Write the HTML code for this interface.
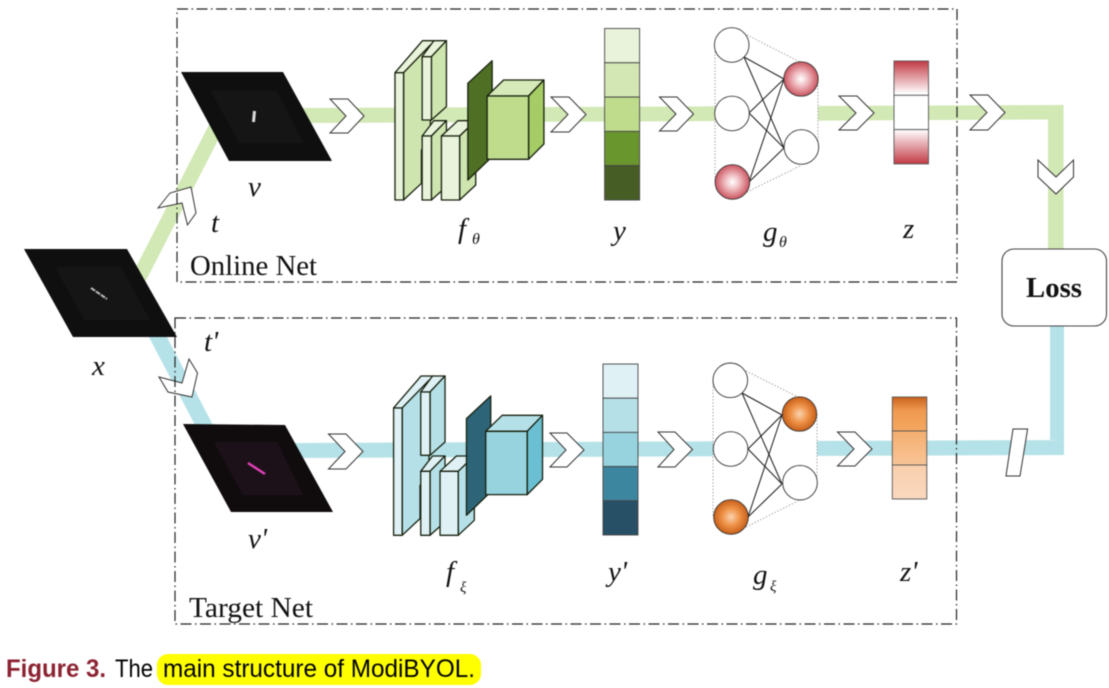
<!DOCTYPE html>
<html><head><meta charset="utf-8"><style>
html,body{margin:0;padding:0;background:#fff;width:1109px;height:688px;overflow:hidden}
svg{display:block;filter:blur(.4px)}
.s{font-family:"Liberation Serif",serif;fill:#111}
.i{font-family:"Liberation Serif",serif;font-style:italic;fill:#111;font-size:29px}
.sub{font-family:"Liberation Serif",serif;font-style:italic;fill:#111}
.c{font-family:"Liberation Sans",sans-serif;font-size:25px}
.chev{fill:#fff;stroke:#333;stroke-width:1}
.enc polygon{stroke:#16200e;stroke-width:1.3;vector-effect:non-scaling-stroke;stroke-linejoin:round}
.dash{fill:none;stroke:#222;stroke-width:1.2;stroke-dasharray:11 3.5 1.5 3.5}
.nl{stroke:#1a1a1a;stroke-width:1}
.dot{stroke:#777;stroke-width:.8;stroke-dasharray:1.2 2}
.nc{stroke:#333;stroke-width:.9}
</style></head><body>
<svg width="1109" height="688" viewBox="0 0 1109 688" xmlns="http://www.w3.org/2000/svg">
<defs>
<radialGradient id="pk"><stop offset="0" stop-color="#fff"/><stop offset=".4" stop-color="#f0c0c4"/><stop offset="1" stop-color="#cc5560"/></radialGradient>
<radialGradient id="or"><stop offset="0" stop-color="#fad3b0"/><stop offset=".5" stop-color="#ee9348"/><stop offset="1" stop-color="#c85f18"/></radialGradient>
<linearGradient id="r1" x1="0" y1="0" x2="0" y2="1"><stop offset="0" stop-color="#c23a45"/><stop offset=".95" stop-color="#fff"/></linearGradient>
<linearGradient id="r2" x1="0" y1="0" x2="0" y2="1"><stop offset="0" stop-color="#fff"/><stop offset="1" stop-color="#c23a45"/></linearGradient>
<linearGradient id="o1" x1="0" y1="0" x2="0" y2="1"><stop offset="0" stop-color="#c9621c"/><stop offset=".4" stop-color="#f09a50"/><stop offset="1" stop-color="#f5a862"/></linearGradient>
<linearGradient id="o2" x1="0" y1="0" x2="0" y2="1"><stop offset="0" stop-color="#f5ae70"/><stop offset="1" stop-color="#f8c597"/></linearGradient>
<linearGradient id="o3" x1="0" y1="0" x2="0" y2="1"><stop offset="0" stop-color="#f9cfad"/><stop offset="1" stop-color="#fbd8bf"/></linearGradient>
</defs>

<!-- connectors -->
<polyline points="125,305 225,110" fill="none" stroke="#d2e8b5" stroke-width="15"/>
<polygon points="300,108 1063.5,105 1063.5,250 1048,250 1048,119.500 300,123" fill="#d2e8b5"/>
<polygon points="140,320 158,320 213,425 195,425" fill="#b5e2e8"/>
<polygon points="295,443 1064,440 1064,326 1050,326 1050,440.500 1064,440 1064,455 295,458" fill="#b5e2e8"/>
<rect x="715" y="100" width="103" height="28" fill="#fff"/>
<rect x="713" y="435" width="104" height="28" fill="#fff"/>

<!-- images -->
<polygon points="24,249 127,249 177,337 73,337" fill="#0f0f0f"/>
<polygon points="55,267 121,267 150,320 84,320" fill="#151515"/>
<line x1="91" y1="288" x2="107" y2="299" stroke="#bbb" stroke-width="2" stroke-dasharray="5 1"/>
<polygon points="181,72 283,72 332,161 229,161" fill="#0f0f0f"/>
<polygon points="211,91 277,91 303.500,143 239,143" fill="#151515"/>
<line x1="254.500" y1="111" x2="253.500" y2="122" stroke="#ddd" stroke-width="3"/>
<polygon points="183,424 285,425 333,512 231,512" fill="#100c0e"/>
<polygon points="214,442 277,442 303,495 243,495" fill="#1d1119"/>
<line x1="248" y1="463" x2="265" y2="474" stroke="#e040b8" stroke-width="2.500"/>

<!-- online encoder -->
<g class="enc" transform="scale(0.35714,0.33333)">
<polygon fill="#e9f3db" points="1106,218 1183,122 1218,122 1130,218"/>
<polygon fill="#cfe5b0" points="1130,218 1205,135 1205,420 1180,450 1180,550 1130,600"/>
<polygon fill="#e9f3db" points="1106,218 1130,218 1130,600 1106,600"/>
<polygon fill="#e9f3db" points="1182,170 1215,122 1250,122 1208,170"/>
<polygon fill="#cfe5b0" points="1208,170 1250,122 1250,320 1208,360"/>
<polygon fill="#e9f3db" points="1182,170 1208,170 1208,360 1182,360"/>
<polygon fill="#e9f3db" points="1182,408 1215,362 1250,362 1208,408"/>
<polygon fill="#cfe5b0" points="1208,408 1250,362 1250,560 1208,600"/>
<polygon fill="#e9f3db" points="1182,408 1208,408 1208,600 1182,600"/>
<polygon fill="#e9f3db" points="1236,408 1282,362 1332,362 1287,408"/>
<polygon fill="#cfe5b0" points="1287,408 1332,362 1332,555 1287,600"/>
<polygon fill="#e9f3db" points="1236,408 1287,408 1287,600 1236,600"/>
<polygon fill="#4e6f24" points="1310,250 1378,182 1378,470 1310,540"/>
<polygon fill="#d6e9b8" points="1364,288 1410,240 1523,240 1480,288"/>
<polygon fill="#a6cc66" points="1480,288 1523,240 1523,432 1480,478"/>
<polygon fill="#bfdc8d" points="1364,288 1480,288 1480,478 1364,478"/>
</g>
<!-- target encoder -->
<g class="enc" transform="translate(-1.4,335.3) scale(0.35714,0.33333)">
<polygon fill="#dff1f5" points="1106,218 1183,122 1218,122 1130,218"/>
<polygon fill="#b6e0e8" points="1130,218 1205,135 1205,420 1180,450 1180,550 1130,600"/>
<polygon fill="#dff1f5" points="1106,218 1130,218 1130,600 1106,600"/>
<polygon fill="#dff1f5" points="1182,170 1215,122 1250,122 1208,170"/>
<polygon fill="#b6e0e8" points="1208,170 1250,122 1250,320 1208,360"/>
<polygon fill="#dff1f5" points="1182,170 1208,170 1208,360 1182,360"/>
<polygon fill="#dff1f5" points="1182,408 1215,362 1250,362 1208,408"/>
<polygon fill="#b6e0e8" points="1208,408 1250,362 1250,560 1208,600"/>
<polygon fill="#dff1f5" points="1182,408 1208,408 1208,600 1182,600"/>
<polygon fill="#dff1f5" points="1236,408 1282,362 1332,362 1287,408"/>
<polygon fill="#b6e0e8" points="1287,408 1332,362 1332,555 1287,600"/>
<polygon fill="#dff1f5" points="1236,408 1287,408 1287,600 1236,600"/>
<polygon fill="#2d6478" points="1310,250 1378,182 1378,470 1310,540"/>
<polygon fill="#b6e0e8" points="1364,288 1410,240 1523,240 1480,288"/>
<polygon fill="#6bbfd2" points="1480,288 1523,240 1523,432 1480,478"/>
<polygon fill="#96d3de" points="1364,288 1480,288 1480,478 1364,478"/>
</g>

<!-- y columns -->
<g stroke="#444" stroke-width=".9">
<rect x="604.600" y="28.500" width="35" height="34.300" fill="#e9f3db"/>
<rect x="604.600" y="62.800" width="35" height="34.300" fill="#d3e7b5"/>
<rect x="604.600" y="97.100" width="35" height="34.300" fill="#bfdc8d"/>
<rect x="604.600" y="131.400" width="35" height="34.300" fill="#6a962e"/>
<rect x="604.600" y="165.700" width="35" height="34.300" fill="#465e25"/>
<rect x="603" y="364" width="35" height="34.200" fill="#dff1f5"/>
<rect x="603" y="398.200" width="35" height="34.200" fill="#b6e0e8"/>
<rect x="603" y="432.400" width="35" height="34.200" fill="#96d3de"/>
<rect x="603" y="466.600" width="35" height="34.200" fill="#3d86a0"/>
<rect x="603" y="500.800" width="35" height="34.200" fill="#275066"/>
</g>

<!-- networks -->
<g class="dot">
<line x1="715" y1="45" x2="715" y2="182"/><line x1="747" y1="35" x2="800" y2="62"/><line x1="747" y1="192" x2="800" y2="166"/><line x1="818" y1="79" x2="818" y2="147"/>
<line x1="713" y1="380" x2="713" y2="517"/><line x1="746" y1="371" x2="798" y2="397"/><line x1="746" y1="527" x2="798" y2="501"/><line x1="817" y1="414" x2="817" y2="482"/>
</g>
<g class="nl">
<line x1="744" y1="57" x2="784" y2="79"/><line x1="744" y1="57" x2="784" y2="148"/><line x1="749" y1="113" x2="784" y2="79"/><line x1="749" y1="113" x2="784" y2="148"/><line x1="749" y1="182" x2="784" y2="79"/><line x1="749" y1="182" x2="784" y2="148"/>
<line x1="742" y1="393" x2="782" y2="415"/><line x1="742" y1="393" x2="782" y2="484"/><line x1="748" y1="449" x2="782" y2="415"/><line x1="748" y1="449" x2="782" y2="484"/><line x1="748" y1="517" x2="782" y2="415"/><line x1="748" y1="517" x2="782" y2="484"/>
</g>
<g class="nc">
<circle cx="731.700" cy="45" r="17.300" fill="#fff"/><circle cx="732" cy="113.500" r="17.300" fill="#fff"/><circle cx="732.400" cy="182" r="17.300" fill="url(#pk)"/><circle cx="801" cy="79" r="17.200" fill="url(#pk)"/><circle cx="801.400" cy="147" r="17.300" fill="#fff"/>
<circle cx="730.300" cy="380.300" r="17.300" fill="#fff"/><circle cx="730.600" cy="449" r="17.300" fill="#fff"/><circle cx="731" cy="517" r="17.300" fill="url(#or)"/><circle cx="799.500" cy="414" r="17.200" fill="url(#or)"/><circle cx="800" cy="482.700" r="17.300" fill="#fff"/>
</g>

<!-- z -->
<g stroke="#555" stroke-width=".9">
<rect x="894" y="61" width="34.500" height="34.300" fill="url(#r1)"/>
<rect x="894" y="95.300" width="34.500" height="34.300" fill="#fff"/>
<rect x="894" y="129.600" width="34.500" height="34.300" fill="url(#r2)"/>
<rect x="892.300" y="397" width="34.500" height="34" fill="url(#o1)"/>
<rect x="892.300" y="431" width="34.500" height="34" fill="url(#o2)"/>
<rect x="892.300" y="465" width="34.500" height="34" fill="url(#o3)"/>
</g>

<!-- chevrons -->
<g class="chev">
<polygon points="330,99 348,99 364,116 348,133 330,133 346,116"/>
<polygon points="551,97 569,97 586,114.500 569,132 551,132 568,114.500"/>
<polygon points="659.500,97 677,97 693.500,114 677,131 659.500,131 676,114"/>
<polygon points="839,96 857,96 874,113 857,130 839,130 856,113"/>
<polygon points="970,95 988,95 1005,112.500 988,130 970,130 987,112.500"/>
<polygon points="1038,160 1056,177 1073.500,160 1073.500,177 1056,194 1038,177"/>
<polygon points="158,208 170,193 191,187 196,213 187.500,225 182,203"/>
<polygon points="159,377 182,383 189,359 197.500,373 192,397 168,392"/>
<polygon points="328.500,434 346,434 363,451.500 346,469 328.500,469 345,451.500"/>
<polygon points="550,433 567,433 584,450 567,467 550,467 566,450"/>
<polygon points="658,432 675,432 692.500,449.500 675,467 658,467 674,449.500"/>
<polygon points="837.500,432 855,432 872,449 855,466 837.500,466 854,449"/>
<polygon points="1013,429 1027.600,429 1020,476 1006,476"/>
</g>

<!-- dashed boxes -->
<rect class="dash" x="177" y="9" width="780" height="273"/>
<rect class="dash" x="175" y="318" width="781.500" height="306"/>

<!-- loss -->
<rect x="1002" y="249" width="104.500" height="77" rx="12" fill="#fff" stroke="#444" stroke-width="1.100"/>
<text class="s" x="1026" y="297" font-size="28.800" font-weight="bold" textLength="56" lengthAdjust="spacingAndGlyphs">Loss</text>

<!-- labels -->
<text class="s" x="190" y="275" font-size="28.800" textLength="127" lengthAdjust="spacingAndGlyphs">Online Net</text>
<text class="s" x="189" y="617" font-size="28.800" textLength="124" lengthAdjust="spacingAndGlyphs">Target Net</text>
<text class="i" x="92" y="375">x</text>
<text class="i" x="248" y="196">v</text>
<text class="i" x="211" y="232">t</text>
<text class="i" x="204" y="351">t'</text>
<text class="i" x="248" y="548">v'</text>
<text class="i" x="458" y="238">f</text><text class="sub" x="472" y="244" font-size="16">θ</text>
<text class="i" x="446" y="581">f</text><text class="sub" x="460" y="592" font-size="15">ξ</text>
<text class="i" x="613" y="240">y</text>
<text class="i" x="608" y="581">y'</text>
<text class="i" x="763" y="241">g</text><text class="sub" x="779" y="247" font-size="16">θ</text>
<text class="i" x="753" y="584">g</text><text class="sub" x="770" y="591" font-size="15">ξ</text>
<text class="i" x="903" y="238">z</text>
<text class="i" x="900" y="581">z'</text>

<!-- caption -->
<rect x="157" y="654" width="324" height="31" rx="11" fill="#ffff00"/>
<text class="c" x="6" y="677" fill="#8b2332" font-weight="bold" textLength="100" lengthAdjust="spacingAndGlyphs">Figure 3.</text>
<text class="c" x="115" y="677" fill="#000" textLength="38" lengthAdjust="spacingAndGlyphs">The</text>
<text class="c" x="163" y="677" fill="#000" textLength="312" lengthAdjust="spacingAndGlyphs">main structure of ModiBYOL.</text>
</svg>
</body></html>
